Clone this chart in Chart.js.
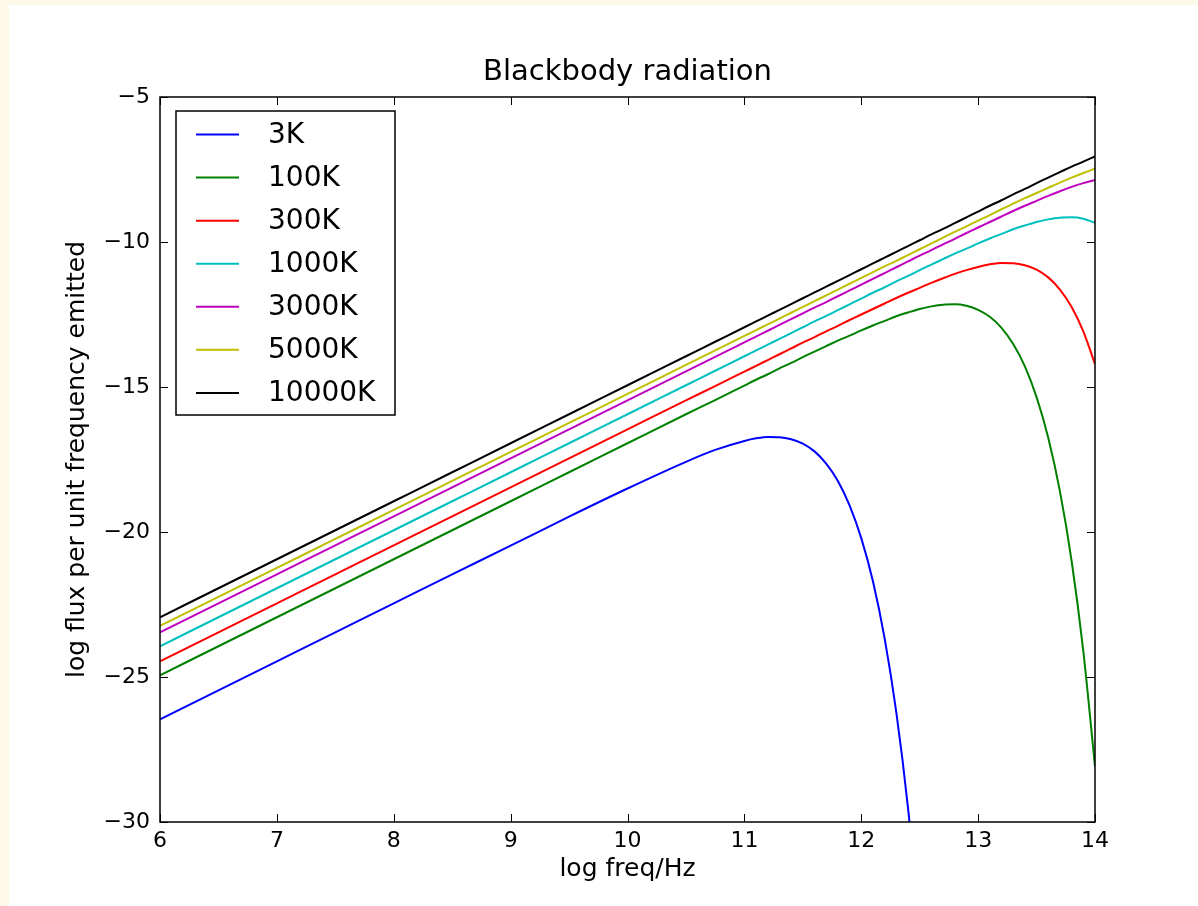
<!DOCTYPE html>
<html>
<head>
<meta charset="utf-8">
<title>Blackbody radiation</title>
<script src="https://cdn.jsdelivr.net/npm/chart.js@4.4.1/dist/chart.umd.min.js"></script>
<style>
  html, body { margin: 0; padding: 0; background: #fdf9e9; }
  #wrap { position: absolute; left: 9px; top: 5px; width: 1189px; height: 901px; background: #fff; }
</style>
</head>
<body>
<div id="wrap"><canvas id="bbChart" width="1189" height="901"></canvas></div>
<script>
// log10 of frequency (Hz), shared by all curves
const logFreq = [6, 6.5, 7, 7.5, 8, 8.5, 9, 9.5, 10, 10.5, 10.75,
  11, 11.1, 11.2, 11.3, 11.4, 11.5, 11.6, 11.7, 11.8, 11.9,
  12, 12.1, 12.2, 12.3, 12.4, 12.5, 12.6, 12.7, 12.8, 12.9,
  13, 13.1, 13.2, 13.3, 13.4, 13.5, 13.6, 13.7, 13.8, 13.9, 14];

// log flux per unit frequency
const flux3K = [-26.46, -25.46, -24.46, -23.46, -22.46, -21.46, -20.47, -19.47, -18.50, -17.58, -17.17,
  -16.86, -16.77, -16.72, -16.73, -16.80, -16.95, -17.22, -17.64, -18.24, -19.08,
  -20.21, -21.70, -23.67, -26.22, -29.51, -33.73, null, null, null, null,
  null, null, null, null, null, null, null, null, null, null, null];
const flux100K = [-24.94, -23.94, -22.94, -21.94, -20.94, -19.94, -18.94, -17.94, -16.94, -15.94, -15.45,
  -14.95, -14.75, -14.56, -14.36, -14.17, -13.97, -13.78, -13.59, -13.40, -13.23,
  -13.05, -12.88, -12.72, -12.56, -12.43, -12.31, -12.22, -12.16, -12.15, -12.20,
  -12.34, -12.58, -12.96, -13.52, -14.29, -15.35, -16.75, -18.60, -21.00, -24.11, -28.09];
const flux300K = [-24.46, -23.46, -22.46, -21.46, -20.46, -19.46, -18.46, -17.46, -16.46, -15.46, -14.97,
  -14.47, -14.27, -14.07, -13.87, -13.67, -13.47, -13.28, -13.08, -12.89, -12.69,
  -12.50, -12.31, -12.12, -11.93, -11.75, -11.58, -11.41, -11.25, -11.10, -10.97,
  -10.86, -10.77, -10.72, -10.73, -10.80, -10.95, -11.22, -11.64, -12.24, -13.08, -14.21];
const flux1000K = [-23.94, -22.94, -21.94, -20.94, -19.94, -18.94, -17.94, -16.94, -15.94, -14.94, -14.44,
  -13.94, -13.74, -13.54, -13.34, -13.14, -12.94, -12.74, -12.55, -12.35, -12.15,
  -11.95, -11.75, -11.56, -11.36, -11.17, -10.97, -10.78, -10.59, -10.40, -10.23,
  -10.05, -9.88, -9.72, -9.56, -9.43, -9.31, -9.22, -9.16, -9.15, -9.20, -9.34];
const flux3000K = [-23.46, -22.46, -21.46, -20.46, -19.46, -18.46, -17.46, -16.46, -15.46, -14.46, -13.96,
  -13.46, -13.26, -13.06, -12.86, -12.66, -12.46, -12.26, -12.07, -11.87, -11.67,
  -11.47, -11.27, -11.07, -10.87, -10.67, -10.47, -10.28, -10.08, -9.89, -9.69,
  -9.50, -9.31, -9.12, -8.93, -8.75, -8.58, -8.41, -8.25, -8.10, -7.97, -7.86];
const flux5000K = [-23.24, -22.24, -21.24, -20.24, -19.24, -18.24, -17.24, -16.24, -15.24, -14.24, -13.74,
  -13.24, -13.04, -12.84, -12.64, -12.44, -12.24, -12.04, -11.84, -11.64, -11.44,
  -11.24, -11.04, -10.84, -10.65, -10.45, -10.25, -10.05, -9.85, -9.65, -9.46,
  -9.26, -9.07, -8.87, -8.68, -8.49, -8.31, -8.13, -7.95, -7.78, -7.62, -7.47];
const flux10000K = [-22.94, -21.94, -20.94, -19.94, -18.94, -17.94, -16.94, -15.94, -14.94, -13.94, -13.44,
  -12.94, -12.74, -12.54, -12.34, -12.14, -11.94, -11.74, -11.54, -11.34, -11.14,
  -10.94, -10.74, -10.54, -10.34, -10.14, -9.94, -9.74, -9.55, -9.35, -9.15,
  -8.95, -8.75, -8.56, -8.36, -8.17, -7.97, -7.78, -7.59, -7.40, -7.23, -7.05];

const seriesLabels = ['3K', '100K', '300K', '1000K', '3000K', '5000K', '10000K'];
const seriesValues = [flux3K, flux100K, flux300K, flux1000K, flux3000K, flux5000K, flux10000K];
const seriesColors = ['#0000ff', '#008000', '#ff0000', '#00bfbf', '#bf00bf', '#bfbf00', '#000000'];

const xTicks = [6, 7, 8, 9, 10, 11, 12, 13, 14];
const yTicks = [-30, -25, -20, -15, -10, -5];

const chartTitle = 'Blackbody radiation';
const FONT = "'DejaVu Sans', sans-serif";

function minusSign(v) {
    return v < 0 ? '\u2212' + Math.abs(v) : String(v);
}

// frame, inward ticks on all four sides, title and the boxed legend
const matplotlibLook = {
    id: 'matplotlibLook',
    afterDatasetsDraw(chart) {
        const { ctx, chartArea: a, scales: { x, y } } = chart;
        const tick = 8;
        ctx.save();
        ctx.strokeStyle = '#000';
        ctx.lineWidth = 1;
        ctx.beginPath();
        xTicks.forEach(v => {
            const px = Math.round(x.getPixelForValue(v)) + 0.5;
            ctx.moveTo(px, a.bottom); ctx.lineTo(px, a.bottom - tick);
            ctx.moveTo(px, a.top); ctx.lineTo(px, a.top + tick);
        });
        yTicks.forEach(v => {
            const py = Math.round(y.getPixelForValue(v)) + 0.5;
            ctx.moveTo(a.left, py); ctx.lineTo(a.left + tick, py);
            ctx.moveTo(a.right, py); ctx.lineTo(a.right - tick, py);
        });
        ctx.stroke();

        ctx.lineWidth = 1.5;
        ctx.strokeRect(a.left, a.top, a.right - a.left, a.bottom - a.top);

        // title
        ctx.fillStyle = '#000';
        ctx.font = '29px ' + FONT;
        ctx.textAlign = 'center';
        ctx.textBaseline = 'middle';
        ctx.fillText(chartTitle, (a.left + a.right) / 2, 67);

        // legend
        const lx = a.left + 16, ly = a.top + 14, lw = 219, lh = 304;
        ctx.fillStyle = '#fff';
        ctx.fillRect(lx, ly, lw, lh);
        ctx.lineWidth = 1.5;
        ctx.strokeRect(lx, ly, lw, lh);
        ctx.font = '28px ' + FONT;
        ctx.textAlign = 'left';
        chart.data.datasets.forEach((ds, i) => {
            const rowY = ly + 23.5 + i * 43.07;
            ctx.strokeStyle = ds.borderColor;
            ctx.lineWidth = 2;
            ctx.beginPath();
            ctx.moveTo(lx + 20, rowY);
            ctx.lineTo(lx + 63, rowY);
            ctx.stroke();
            ctx.fillStyle = '#000';
            ctx.fillText(ds.label, lx + 92, rowY + 1);
        });
        ctx.restore();
    }
};

document.addEventListener('DOMContentLoaded', () => {
    const ctx = document.getElementById('bbChart').getContext('2d');
    new Chart(ctx, {
        type: 'line',
        data: {
            datasets: seriesLabels.map((label, i) => ({
                label: label,
                data: logFreq.map((f, j) => ({ x: f, y: seriesValues[i][j] })),
                borderColor: seriesColors[i],
                backgroundColor: seriesColors[i],
                borderWidth: 2,
                pointRadius: 0,
                cubicInterpolationMode: 'monotone',
                spanGaps: false
            }))
        },
        options: {
            responsive: false,
            animation: false,
            devicePixelRatio: 1,
            layout: { padding: { top: 92, right: 103, left: 0, bottom: 0 } },
            plugins: {
                legend: { display: false },
                title: { display: false },
                tooltip: { enabled: false }
            },
            scales: {
                x: {
                    type: 'linear',
                    min: 6,
                    max: 14,
                    afterFit: scale => { scale.height = 84; },
                    afterBuildTicks: scale => { scale.ticks = xTicks.map(v => ({ value: v })); },
                    grid: { display: false, drawTicks: false },
                    border: { display: false },
                    ticks: {
                        padding: 6,
                        color: '#000',
                        font: { family: FONT, size: 22 },
                        maxRotation: 0,
                        callback: v => minusSign(v)
                    },
                    title: {
                        display: true,
                        text: 'log freq/Hz',
                        color: '#000',
                        font: { family: FONT, size: 25 },
                        padding: { top: 0, bottom: 22 }
                    }
                },
                y: {
                    type: 'linear',
                    min: -30,
                    max: -5,
                    afterFit: scale => { scale.width = 151; },
                    afterBuildTicks: scale => { scale.ticks = yTicks.map(v => ({ value: v })); },
                    grid: { display: false, drawTicks: false },
                    border: { display: false },
                    ticks: {
                        padding: 10,
                        color: '#000',
                        font: { family: FONT, size: 22 },
                        callback: v => minusSign(v)
                    },
                    title: {
                        display: true,
                        text: 'log flux per unit frequency emitted',
                        color: '#000',
                        font: { family: FONT, size: 25 },
                        padding: { top: 53, bottom: 0 }
                    }
                }
            }
        },
        plugins: [matplotlibLook]
    });
});
</script>
</body>
</html>
